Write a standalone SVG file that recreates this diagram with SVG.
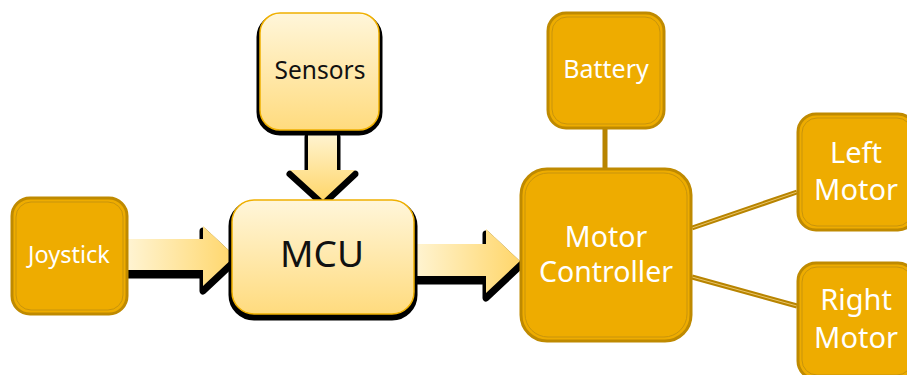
<svg xmlns="http://www.w3.org/2000/svg" width="907" height="375" viewBox="0 0 907 375">
<defs>
<linearGradient id="gv" x1="0" y1="0" x2="0" y2="1"><stop offset="0" stop-color="#FFF6DA"/><stop offset="1" stop-color="#FFDB7E"/></linearGradient>
<linearGradient id="gh" x1="0" y1="0" x2="1" y2="0"><stop offset="0" stop-color="#FFF4D2"/><stop offset="1" stop-color="#FFD66A"/></linearGradient>
<linearGradient id="gd" x1="0" y1="0" x2="0" y2="1"><stop offset="0" stop-color="#FFF4D2"/><stop offset="1" stop-color="#FFD66A"/></linearGradient>
<style>
.sh{fill:#000;stroke:#000;stroke-width:7;stroke-linejoin:round}
.lt{fill:url(#gv);stroke:#F0B000;stroke-width:1.5}
.dk{fill:#EEAC00;stroke:#BF8A00;stroke-width:3}
.dki{fill:none;stroke:#C8940C;stroke-width:1}
.tb{font-family:"Noto Sans","Open Sans",sans-serif;fill:#111;text-anchor:middle}
.tw{font-family:"Noto Sans","Open Sans",sans-serif;fill:#fff;text-anchor:middle}
.ln{stroke:#B88400;stroke-width:5;fill:none}
.lni{stroke:#E9C56A;stroke-width:1;fill:none}
</style>
</defs>
<g id="connectors">
<path class="ln" d="M692 228 L797 192 M692 277 L797 306 M605 129 L605 168"/>
<path class="lni" d="M692 228 L797 192 M692 277 L797 306"/>
<g id="arrow-sensors">
<path class="sh" transform="translate(0,4)" d="M308 133 H337 V170 H355 L323 200 L290 170 H308 Z"/>
<path fill="url(#gd)" d="M308 133 H337 V170 H355 L323 200 L290 170 H308 Z"/>
</g>
<g id="arrow-joystick">
<path class="sh" transform="translate(0,5)" d="M128 239 H203 V226 L235 256 L203 286 V270 H128 Z"/>
<path fill="url(#gh)" d="M128 239 H203 V226 L235 256 L203 286 V270 H128 Z"/>
</g>
<g id="arrow-mcu">
<path class="sh" transform="translate(0,5)" d="M415 244 H486 V229 L520 261 L486 293 V276 H415 Z"/>
<path fill="url(#gh)" d="M415 244 H486 V229 L520 261 L486 293 V276 H415 Z"/>
</g>
</g>
<g id="sensors">
<rect class="sh" x="260" y="17" width="119" height="115" rx="20"/>
<rect class="lt" x="260" y="13" width="119" height="117" rx="20"/>
<text class="tb" x="320" y="79" font-size="24.5">Sensors</text>
</g>
<g id="mcu">
<rect class="sh" x="232" y="204" width="182" height="113" rx="22"/>
<rect class="lt" x="232" y="200" width="182" height="114" rx="22"/>
<text class="tb" x="322" y="267" font-size="37">MCU</text>
</g>
<g id="joystick">
<rect class="dk" x="12" y="198" width="115" height="116" rx="18"/>
<rect class="dki" x="16" y="202" width="107" height="108" rx="15"/>
<text class="tw" x="69" y="263" font-size="23.5">Joystick</text>
</g>
<g id="battery">
<rect class="dk" x="548" y="13" width="116" height="115" rx="18"/>
<rect class="dki" x="552" y="17" width="108" height="107" rx="15"/>
<text class="tw" x="606" y="78" font-size="25">Battery</text>
</g>
<g id="motor-controller">
<rect class="dk" x="521" y="169" width="170" height="172" rx="26"/>
<rect class="dki" x="525" y="173" width="162" height="164" rx="23"/>
<text class="tw" x="606" y="247" font-size="28.5">Motor</text>
<text class="tw" x="606" y="282" font-size="28.5">Controller</text>
</g>
<g id="left-motor">
<rect class="dk" x="798" y="114" width="118" height="116" rx="18"/>
<rect class="dki" x="802" y="118" width="110" height="108" rx="15"/>
<text class="tw" x="856" y="163" font-size="29">Left</text>
<text class="tw" x="856" y="200" font-size="29">Motor</text>
</g>
<g id="right-motor">
<rect class="dk" x="798" y="263" width="118" height="116" rx="18"/>
<rect class="dki" x="802" y="267" width="110" height="108" rx="15"/>
<text class="tw" x="856" y="310" font-size="29">Right</text>
<text class="tw" x="856" y="348" font-size="29">Motor</text>
</g>
</svg>
